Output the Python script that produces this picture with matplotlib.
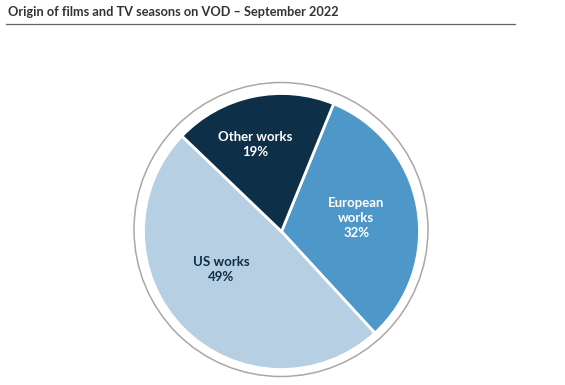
import numpy as np
import matplotlib.pyplot as plt
from matplotlib.patches import Circle

# --- Datos ---
categorias = ["European\nworks", "US works", "Other works"]
valores = [32, 49, 19]
colores = ["#4e98c9", "#b7cfe3", "#0d2f47"]
colores_texto = ["white", "#0d2f47", "white"]
titulo = "Origin of films and TV seasons on VOD – September 2022"

plt.rcParams['font.family'] = ['Lato', 'DejaVu Sans']

fig = plt.figure(figsize=(5.65, 3.85), dpi=100)

# titulo y linea
fig.text(8 / 565, 1 - 12 / 385, titulo, fontsize=9.2, fontweight="bold",
         color="#333333", ha="left", va="center")
fig.add_artist(plt.Line2D([6 / 565, 515 / 565], [1 - 24 / 385] * 2,
                          color="#666666", lw=0.9))

# pie: centro (281.5,231.5) px, radio 138 px
radio_px = 138
cx, cy = 281.5, 231.5
mitad = 155
r_lim = mitad / radio_px
ax = fig.add_axes([(cx - mitad) / 565, (385 - cy - mitad) / 385, 2 * mitad / 565, 2 * mitad / 385])
wedges, _ = ax.pie(valores, colors=colores, startangle=67.8, counterclock=False,
                   radius=1, wedgeprops=dict(edgecolor="white", linewidth=2))
ax.add_patch(Circle((-0.5 / radio_px, 2 / radio_px), 147 / radio_px, fill=False,
                    edgecolor="#a8a8a8", lw=1.1))

# etiquetas
distancias = [0.55, 0.52, 0.66]
ajuste_ang = [0, -12, 5]
for w, cat, v, c, d, a in zip(wedges, categorias, valores, colores_texto, distancias, ajuste_ang):
    ang = np.radians((w.theta1 + w.theta2) / 2 + a)
    ax.text(d * np.cos(ang), d * np.sin(ang), f"{cat}\n{v}%", ha="center", va="center",
            fontsize=9.5, fontweight="bold", color=c, linespacing=1.3)

ax.set_xlim(-r_lim, r_lim)
ax.set_ylim(-r_lim, r_lim)
ax.set_aspect("equal")
ax.axis("off")

fig.savefig("out.png", dpi=100)
